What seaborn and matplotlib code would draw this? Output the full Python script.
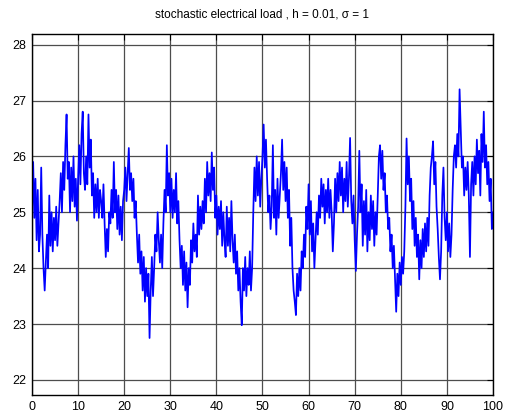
import numpy as np
import pandas as pd
import matplotlib
matplotlib.use("Agg")
import matplotlib.pyplot as plt
import seaborn as sns

# values, 4 samples per unit of time (step 0.25)
load_values = [
    25.0, 25.9, 24.9, 25.6,   24.5, 25.4, 24.3, 24.6,   25.8, 24.6, 24.0, 23.6,
    24.1, 24.6, 24.0, 25.3,   24.4, 25.0, 24.3, 24.9,   24.5, 25.1, 24.4, 24.8,
    25.2, 25.7, 25.0, 25.9,   25.4, 26.2, 26.75, 25.6,  25.9, 25.0, 25.8, 25.2,
    26.0, 25.1, 25.6, 24.85,  25.6, 26.2, 25.5, 26.4,   26.8, 25.7, 25.4, 26.0,
    25.5, 26.75, 25.8, 26.3,  25.3, 25.7, 24.9, 25.5,   25.0, 25.6, 24.9, 25.4,
    25.2, 24.9, 25.5, 24.8,   24.2, 24.7, 24.3, 25.0,   24.8, 25.4, 24.9, 25.9,
    25.0, 25.4, 24.7, 25.3,   24.6, 25.1, 24.5, 25.2,   25.4, 25.8, 25.2, 25.7,
    26.15, 25.4, 25.7, 25.2,  25.6, 24.9, 25.2, 24.6,   24.1, 24.6, 23.9, 24.3,
    23.6, 24.2, 23.4, 24.0,   23.5, 23.9, 22.75, 23.6,  24.2, 23.5, 24.0, 24.6,
    24.3, 25.0, 24.5, 24.1,   24.6, 24.0, 24.8, 25.4,   25.0, 26.2, 25.3, 25.7,
    25.0, 25.6, 24.9, 25.4,   25.0, 25.7, 24.8, 25.2,   24.5, 24.0, 24.4, 23.7,
    24.3, 23.6, 24.1, 23.3,   24.0, 23.7, 24.5, 24.1,   24.8, 24.3, 24.6, 24.2,
    25.3, 24.6, 25.1, 24.7,   25.2, 24.8, 25.6, 25.0,   25.9, 25.3, 25.7, 25.2,
    26.07, 25.4, 25.8, 24.9,  25.3, 24.6, 25.1, 24.7,   25.2, 24.4, 25.0, 24.5,
    24.2, 25.1, 24.4, 24.9,   24.3, 25.2, 24.5, 24.1,   24.6, 23.9, 24.3, 23.6,
    24.0, 23.4, 22.98, 24.0,  23.6, 24.2, 23.5, 24.0,   23.7, 24.3, 23.6, 24.0,
    25.0, 25.8, 25.2, 26.0,   25.3, 25.9, 25.1, 25.6,   26.0, 26.57, 25.8, 26.3,
    25.6, 25.0, 25.3, 24.7,   25.1, 26.2, 24.9, 25.4,   24.6, 25.6, 24.9, 25.3,
    25.7, 26.3, 25.4, 25.9,   25.2, 25.8, 24.9, 25.4,   24.4, 24.9, 24.0, 23.6,
    23.4, 23.16, 23.9, 23.5,  24.0, 23.6, 24.3, 24.0,   24.6, 24.2, 25.1, 24.7,
    25.5, 24.6, 25.2, 24.3,   24.8, 24.0, 24.5, 25.0,   24.6, 25.3, 24.9, 25.6,
    25.1, 25.5, 24.8, 25.4,   25.0, 25.6, 24.9, 25.4,   25.0, 24.3, 24.8, 25.6,
    25.0, 25.7, 25.2, 25.9,   25.3, 25.8, 25.0, 25.6,   25.2, 25.9, 25.1, 25.6,
    26.33, 25.2, 24.8, 25.3,  24.5, 23.95, 24.6, 25.1,  26.1, 25.0, 25.5, 24.4,
    25.2, 24.6, 25.4, 24.3,   25.0, 24.5, 25.3, 24.7,   25.2, 24.4, 25.0, 24.6,
    25.3, 26.0, 26.2, 25.6,   26.1, 25.4, 25.7, 25.0,   25.3, 24.7, 24.9, 24.3,
    24.6, 24.0, 24.4, 23.8,   23.22, 23.9, 23.5, 24.1,  23.7, 24.2, 23.9, 24.3,
    25.1, 26.32, 25.5, 26.0,  25.2, 25.6, 24.7, 25.2,   24.4, 24.9, 24.2, 24.6,
    23.8, 24.5, 24.0, 24.7,   24.2, 24.8, 24.3, 24.9,   24.4, 25.3, 25.8, 26.0,
    26.27, 25.5, 25.9, 25.1,  24.7, 24.2, 23.8, 24.3,   25.3, 25.8, 24.9, 24.5,
    25.0, 24.3, 24.8, 24.2,   24.6, 25.4, 26.0, 26.2,   25.8, 26.4, 26.0, 27.2,
    26.5, 25.8, 26.0, 25.3,   25.8, 25.4, 25.9, 25.3,   24.2, 25.5, 25.9, 25.3,
    26.0, 25.5, 26.3, 25.7,   26.1, 25.3, 26.4, 25.9,   26.8, 25.8, 26.2, 25.5,
    25.9, 25.2, 25.6, 24.7,   25.0,
]
time_values = [i * 0.25 for i in range(len(load_values))]

x_ticks = [0, 10, 20, 30, 40, 50, 60, 70, 80, 90, 100]
y_ticks = [22, 23, 24, 25, 26, 27, 28]
title_text = "stochastic electrical load , h = 0.01, \u03c3 = 1"

df = pd.DataFrame({"t": time_values, "load": load_values})

sns.set_theme(style="white")
plt.rcParams["font.family"] = ["Liberation Sans", "DejaVu Sans"]

fig = plt.figure(figsize=(5.06, 4.12), dpi=100)
ax = fig.add_axes([32 / 506, 17 / 412, 461 / 506, 361 / 412])

sns.lineplot(data=df, x="t", y="load", ax=ax, color="#0000ff",
             linewidth=1.25, estimator=None, sort=False)

ax.set_xlim(0, 100)
ax.set_ylim(21.73, 28.19)
ax.set_xticks(x_ticks)
ax.set_yticks(y_ticks)
ax.set_xlabel("")
ax.set_ylabel("")
ax.grid(True, color="#4d4d4d", linewidth=0.9, linestyle="-")
ax.set_axisbelow(True)
for s in ax.spines.values():
    s.set_color("black")
    s.set_linewidth(1.0)
ax.tick_params(direction="in", length=4, width=0.8, colors="black",
               top=True, right=True, labelsize=9, pad=4)
ax.set_title(title_text, fontsize=8.5, pad=12, color="black")

fig.savefig("out.png", dpi=100)
